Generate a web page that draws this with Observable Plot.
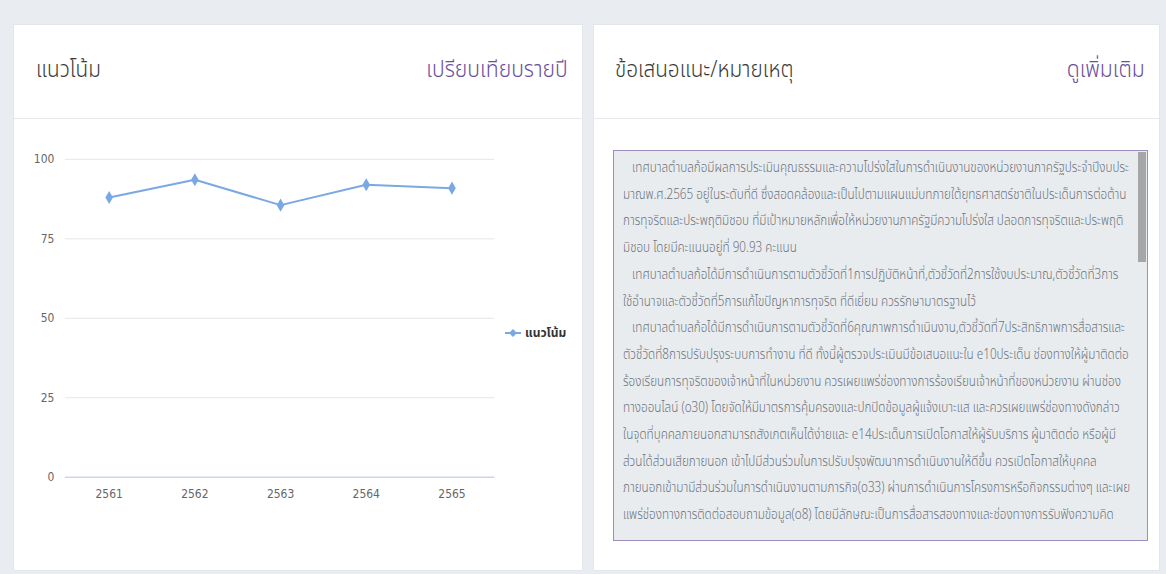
<!DOCTYPE html>
<html><head><meta charset="utf-8">
<script src="https://cdn.jsdelivr.net/npm/d3@7"></script>
<script src="https://cdn.jsdelivr.net/npm/@observablehq/plot@0.6"></script>
<style>
html,body{margin:0;padding:0;}
body{width:1166px;height:574px;background:#e9ecf1;position:relative;overflow:hidden;font-family:"Noto Sans Thai","Noto Sans","DejaVu Sans",sans-serif;}
.card{position:absolute;background:#fff;border:1px solid #e2e5ea;box-sizing:border-box;}
.hdr{position:absolute;left:0;right:0;top:0;height:93px;border-bottom:1px solid #e6e8eb;}
.title{position:absolute;top:28px;font-size:23px;font-weight:300;color:#3a3a3a;transform:scaleX(0.9);transform-origin:left center;white-space:nowrap;}
.link{position:absolute;top:28px;font-size:23px;font-weight:300;color:#6a4f9c;transform:scaleX(0.92);transform-origin:right center;white-space:nowrap;}
#chart{position:absolute;left:0;top:94px;}
.legend{position:absolute;font-size:12px;font-weight:bold;color:#333;display:flex;align-items:center;gap:3px;}
.ta{position:absolute;background:#e9ecef;border:1px solid #9d8cbf;box-sizing:border-box;overflow:hidden;}
.ta .txt{position:absolute;left:9px;top:4px;font-size:14px;line-height:26.7px;color:#6b737b;white-space:pre;font-weight:300;transform-origin:left top;}
.sb{position:absolute;right:1px;top:1px;width:8px;height:110px;background:#a6a6a6;}
</style></head>
<body>
<div class="card" style="left:13px;top:24px;width:570px;height:547px;">
  <div class="hdr"><div class="title" style="left:22px;">แนวโน้ม</div><div class="link" style="right:14px;">เปรียบเทียบรายปี</div></div>
  <div id="chart"></div>
  <div class="legend" id="legend" style="left:490px;top:299px;"></div>
</div>
<div class="card" style="left:593px;top:24px;width:567px;height:547px;">
  <div class="hdr"><div class="title" style="left:21px;">ข้อเสนอแนะ/หมายเหตุ</div><div class="link" style="right:14px;">ดูเพิ่มเติม</div></div>
  <div class="ta" style="left:19px;top:125px;width:535px;height:391px;"><div class="txt" id="txt"></div><div class="sb"></div></div>
</div>
<script>
const years = ["2561","2562","2563","2564","2565"];
const values = [88.0, 93.6, 85.6, 92.0, 90.93];
const yTicks = [0, 25, 50, 75, 100];
const seriesName = "แนวโน้ม";
const noteLines = [
"   เทศบาลตำบลก้อมีผลการประเมินคุณธรรมและความโปร่งใสในการดำเนินงานของหน่วยงานภาครัฐประจำปีงบประ",
"มาณพ.ศ.2565 อยู่ในระดับที่ดี ซึ่งสอดคล้องและเป็นไปตามแผนแม่บทภายใต้ยุทธศาสตร์ชาติในประเด็นการต่อต้าน",
"การทุจริตและประพฤติมิชอบ ที่มีเป้าหมายหลักเพื่อให้หน่วยงานภาครัฐมีความโปร่งใส ปลอดการทุจริตและประพฤติ",
"มิชอบ โดยมีคะแนนอยู่ที่ 90.93 คะแนน",
"   เทศบาลตำบลก้อได้มีการดำเนินการตามตัวชี้วัดที่1การปฏิบัติหน้าที่,ตัวชี้วัดที่2การใช้งบประมาณ,ตัวชี้วัดที่3การ",
"ใช้อำนาจและตัวชี้วัดที่5การแก้ไขปัญหาการทุจริต ที่ดีเยี่ยม ควรรักษามาตรฐานไว้",
"   เทศบาลตำบลก้อได้มีการดำเนินการตามตัวชี้วัดที่6คุณภาพการดำเนินงาน,ตัวชี้วัดที่7ประสิทธิภาพการสื่อสารและ",
"ตัวชี้วัดที่8การปรับปรุงระบบการทำงาน ที่ดี ทั้งนี้ผู้ตรวจประเมินมีข้อเสนอแนะใน e10ประเด็น ช่องทางให้ผู้มาติดต่อ",
"ร้องเรียนการทุจริตของเจ้าหน้าที่ในหน่วยงาน ควรเผยแพร่ช่องทางการร้องเรียนเจ้าหน้าที่ของหน่วยงาน ผ่านช่อง",
"ทางออนไลน์ (o30) โดยจัดให้มีมาตรการคุ้มครองและปกปิดข้อมูลผู้แจ้งเบาะแส และควรเผยแพร่ช่องทางดังกล่าว",
"ในจุดที่บุคคลภายนอกสามารถสังเกตเห็นได้ง่ายและ e14ประเด็นการเปิดโอกาสให้ผู้รับบริการ ผู้มาติดต่อ หรือผู้มี",
"ส่วนได้ส่วนเสียภายนอก เข้าไปมีส่วนร่วมในการปรับปรุงพัฒนาการดำเนินงานให้ดีขึ้น ควรเปิดโอกาสให้บุคคล",
"ภายนอกเข้ามามีส่วนร่วมในการดำเนินงานตามภารกิจ(o33) ผ่านการดำเนินการโครงการหรือกิจกรรมต่างๆ และเผย",
"แพร่ช่องทางการติดต่อสอบถามข้อมูล(o8) โดยมีลักษณะเป็นการสื่อสารสองทางและช่องทางการรับฟังความคิด"
];

const lineColor = "#7aa8e2";
const data = years.map((y, i) => ({year: y, value: values[i]}));

const chart = Plot.plot({
  width: 570, height: 453,
  marginLeft: 51, marginRight: 88, marginTop: 40, marginBottom: 94,
  style: {fontFamily: "'Liberation Sans Narrow','DejaVu Sans Condensed',sans-serif", fontSize: "12px", color: "#666", background: "transparent"},
  x: {type: "point", domain: years, padding: 0.5, label: null},
  y: {domain: [0, 100], label: null},
  marks: [
    Plot.ruleY(yTicks.filter(t => t > 0), {stroke: "#e6e6e6", strokeWidth: 1}),
    Plot.ruleY([0], {stroke: "#ccd6eb", strokeWidth: 1.5}),
    Plot.axisY({ticks: yTicks, tickSize: 0, tickPadding: 11, tickFormat: d => String(d)}),
    Plot.axisX({tickSize: 0, tickPadding: 12}),
    Plot.line(data, {x: "year", y: "value", stroke: lineColor, strokeWidth: 2}),
    Plot.dot(data, {x: "year", y: "value", symbol: "diamond", r: 4, fill: lineColor, stroke: null})
  ]
});
document.getElementById("chart").appendChild(chart);

document.getElementById("legend").innerHTML =
  `<svg width="18" height="10"><line x1="1" y1="5" x2="17" y2="5" stroke="${lineColor}" stroke-width="2"/><path d="M9 1L13 5L9 9L5 5Z" fill="${lineColor}"/></svg><span>${seriesName}</span>`;

// note text: one row per reference line, condensed to the reference's line width
const txt = document.getElementById("txt");
txt.textContent = noteLines.join("\n");
const probe = document.createElement("span");
probe.style.cssText = "position:absolute;visibility:hidden;white-space:pre;font-size:14px;font-weight:300;";
probe.textContent = noteLines[0];
document.body.appendChild(probe);
const w0 = probe.getBoundingClientRect().width;
probe.remove();
const s = 506 / w0;
txt.style.transform = `scaleX(${s})`;
</script>
</body></html>
